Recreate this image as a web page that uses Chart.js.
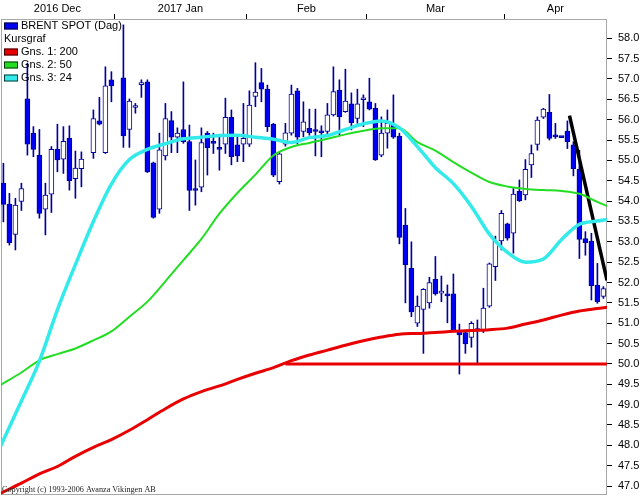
<!DOCTYPE html>
<html>
<head>
<meta charset="utf-8">
<title>BRENT SPOT</title>
<script src="https://cdn.jsdelivr.net/npm/chart.js@4.4.1/dist/chart.umd.min.js"></script>
<style>
  html, body { margin: 0; padding: 0; background: #fff; }
  canvas { display: block; }
</style>
</head>
<body>
<canvas id="brentChart" width="642" height="497"></canvas>
<script>
// weekday slots counted from 2016-12-06 (14 = Dec 26 and 19 = Jan 2 have no quote)
const slots = [0,1,2,3,4,5,6,7,8,9,10,11,12,13,15,16,17,18,
  20,21,22,23,24,25,26,27,28,29,30,31,32,33,34,35,36,37,38,39,40,
  41,42,43,44,45,46,47,48,49,50,51,52,53,54,55,56,57,58,59,60,
  61,62,63,64,65,66,67,68,69,70,71,72,73,74,75,76,77,78,79,80,81,82,83,
  84,85,86,87,88,89,90,91,92,93,94,95,96,97,98,99,100];

const open = [54.44,53.93,53.18,53.99,56.51,55.67,55.13,53.80,54.17,55.27,55.03,55.55,54.55,54.80,55.19,55.97,55.19,56.98,
  57.03,55.76,56.30,56.86,56.93,54.94,53.80,55.11,55.98,55.57,55.76,55.46,54.29,54.34,55.67,55.44,55.28,55.40,56.06,55.38,55.40,
  55.40,56.57,56.91,56.75,55.89,54.48,55.40,55.67,56.71,55.71,55.79,55.74,55.72,55.71,56.12,56.73,56.20,56.39,56.03,56.49,
  56.44,56.28,55.13,55.67,55.89,55.60,53.41,52.35,51.00,51.34,51.50,52.08,51.74,51.69,51.72,50.81,50.77,50.65,50.82,50.83,51.42,52.39,53.02,
  53.44,53.21,54.24,54.15,54.89,55.39,56.06,56.18,55.60,55.58,55.72,55.38,54.79,53.08,53.02,51.94,51.66];
const high = [54.93,54.19,54.07,54.44,57.39,55.83,55.76,54.44,55.34,55.89,55.83,55.85,55.23,55.21,56.24,56.55,57.30,57.18,
  58.33,56.51,56.40,56.98,56.98,54.96,55.67,56.40,56.20,55.80,56.93,55.87,55.01,55.80,55.71,55.67,55.58,56.53,56.24,55.62,56.40,
  56.71,57.40,57.26,56.85,55.91,55.21,55.91,56.85,56.77,56.44,56.26,56.26,55.85,56.40,57.30,56.98,57.24,56.66,56.75,56.61,
  57.02,56.40,56.07,56.24,56.61,55.67,53.82,53.00,51.67,51.85,52.13,52.64,52.16,51.94,52.21,50.98,50.80,51.04,51.08,51.86,52.48,53.14,53.77,
  53.46,54.31,54.52,55.02,55.38,56.07,56.28,56.62,55.91,55.58,55.97,55.46,55.25,53.25,53.21,52.47,51.90];
const low = [53.49,52.92,52.80,53.77,55.13,55.09,53.58,53.17,53.72,54.72,54.68,54.27,54.07,54.35,55.05,55.87,55.17,56.44,
  55.32,55.32,56.16,56.55,54.70,53.58,53.70,55.01,55.19,55.19,55.42,53.77,53.90,54.23,54.64,55.17,54.76,55.17,54.89,54.97,54.97,
  55.34,56.32,56.44,55.71,54.60,54.42,55.35,55.62,55.40,55.58,55.62,55.11,55.09,55.62,56.09,55.62,56.18,55.75,55.91,55.83,
  56.24,55.00,55.09,55.30,55.54,52.95,51.50,51.16,50.92,50.26,51.37,51.69,51.53,51.01,50.80,49.75,50.26,50.41,50.03,50.77,51.39,52.05,52.80,
  53.04,52.72,53.99,54.03,54.58,55.25,56.03,55.50,55.54,55.56,55.29,54.62,52.59,52.67,51.57,51.49,51.61];
const close = [53.92,52.98,53.90,54.31,55.40,55.27,53.70,54.15,55.27,55.01,55.47,54.50,54.81,55.03,56.03,55.89,56.83,56.83,
  55.60,56.46,56.33,56.88,54.72,53.60,55.26,56.03,55.57,55.67,55.46,54.26,54.26,55.44,55.31,55.42,55.27,56.06,55.09,55.11,55.54,
  56.36,56.68,56.75,55.83,54.64,55.16,55.68,56.63,55.57,55.95,55.68,55.71,55.68,56.12,56.69,56.07,56.46,55.93,56.39,56.51,
  56.26,55.01,55.67,55.91,55.57,53.11,52.43,51.28,51.42,51.83,52.00,51.72,51.77,51.67,50.81,50.71,50.49,51.00,50.85,51.37,52.46,53.02,53.70,
  53.09,54.17,54.01,54.78,55.17,55.99,56.26,55.54,55.58,55.56,55.46,54.80,53.06,52.98,51.92,51.53,51.85];

// moving averages read at these slots
const maSlots = [-0.5,3,6,9,12,15,18,21,24,27,30,33,36,39,42,45,48,51,54,57,60,63,66,69,72,75,78,81,84,87,90,93,96,99,100.6];
const ma200 = [46.82,47.07,47.30,47.48,47.73,47.95,48.14,48.37,48.63,48.90,49.14,49.32,49.46,49.62,49.77,49.91,50.08,50.22,
  50.34,50.46,50.57,50.66,50.73,50.75,50.77,50.80,50.82,50.84,50.88,50.98,51.08,51.20,51.30,51.36,51.39];
const ma50 = [49.48,49.79,50.09,50.24,50.38,50.58,50.80,51.16,51.53,52.03,52.55,53.07,53.69,54.20,54.65,55.12,55.33,55.43,
  55.53,55.64,55.73,55.79,55.79,55.45,55.24,54.96,54.70,54.47,54.36,54.30,54.27,54.25,54.18,53.98,53.88];
const ma24 = [47.97,49.09,50.07,51.33,52.44,53.50,54.42,55.02,55.27,55.41,55.53,55.57,55.61,55.62,55.57,55.52,55.44,55.56,
  55.61,55.76,55.90,55.97,55.80,55.34,54.82,54.43,53.87,53.19,52.74,52.50,52.58,53.05,53.43,53.51,53.55];

// drawn lines: support level and falling trend
const supportLevel = 50.0;
const supportSlots = [47, 100.6];
const trendSlots = [94.35, 100.6];
const trendPrices = [56.10, 52.05];

// month axis
const monthLabels = ['2016 Dec', '2017 Jan', 'Feb', 'Mar', 'Apr'];
const monthFirstSlot = [0, 19, 41, 61, 84];
const monthLastSlot = [18, 40, 60, 83, 100];

const X_MIN = -0.4, X_MAX = 100.6;
const Y_MIN = 46.78, Y_MAX = 58.474;

const WICK = '#00009c';
const FILL = '#0000f0';

const boundaryTicks = monthFirstSlot.slice(1).map(s => s - 0.5);
const labelTicks = monthFirstSlot.map((s, i) => (s + monthLastSlot[i]) / 2);

const bodies = slots.map((s, i) => ({ x: s, y: [open[i], close[i]] }));
const wicks = slots.map((s, i) => ({ x: s, y: [low[i], high[i]] }));
const bodyColors = slots.map((s, i) => close[i] < open[i] ? FILL : '#ffffff');

const pts = (xs, ys) => xs.map((x, i) => ({ x: x, y: ys[i] }));

const legendRows = [
  { text: 'BRENT SPOT (Dag)', color: FILL },
  { text: 'Kursgraf' },
  { text: 'Gns. 1: 200', color: '#e80000' },
  { text: 'Gns. 2: 50', color: '#22dd22' },
  { text: 'Gns. 3: 24', color: '#33eaea' }
];

const framePlugin = {
  id: 'frame',
  beforeDatasetsDraw(chart) {
    const a = chart.chartArea, ctx = chart.ctx;
    ctx.save();
    ctx.strokeStyle = '#a8a8a8';
    ctx.lineWidth = 1;
    ctx.strokeRect(a.left + 0.5, a.top + 0.5, a.right - a.left - 1, a.bottom - a.top - 1);
    ctx.restore();
  },
  afterDraw(chart) {
    const a = chart.chartArea, ctx = chart.ctx;
    ctx.save();
    ctx.font = '11px "Liberation Sans", Arial, sans-serif';
    ctx.textBaseline = 'middle';
    legendRows.forEach((row, i) => {
      const y = a.top + 7 + i * 13;
      let tx = a.left + 3;
      if (row.color) {
        ctx.fillStyle = row.color;
        ctx.fillRect(a.left + 3, y - 3.5, 14, 7);
        ctx.strokeStyle = 'rgba(0,0,0,0.75)';
        ctx.lineWidth = 1;
        ctx.strokeRect(a.left + 3.5, y - 3, 13, 6);
        tx = a.left + 20;
      }
      ctx.fillStyle = '#000';
      ctx.fillText(row.text, tx, y);
    });
    ctx.font = '8.2px "Liberation Serif", "Times New Roman", serif';
    ctx.fillStyle = '#222';
    ctx.fillText('Copyright (c) 1993-2006 Avanza Vikingen AB', a.left + 1, a.bottom - 5);
    ctx.restore();
  }
};

Chart.defaults.font.family = '"Liberation Sans", Arial, sans-serif';
Chart.defaults.font.size = 11;
Chart.defaults.color = '#000';

new Chart(document.getElementById('brentChart').getContext('2d'), {
  data: {
    datasets: [
      {
        type: 'line', label: 'Gns. 3: 24', data: pts(maSlots, ma24),
        borderColor: '#33eaea', borderWidth: 3.5, pointRadius: 0,
        cubicInterpolationMode: 'monotone', order: 0
      },
      {
        type: 'line', label: 'Gns. 2: 50', data: pts(maSlots, ma50),
        borderColor: '#22dd22', borderWidth: 2, pointRadius: 0,
        cubicInterpolationMode: 'monotone', order: 0
      },
      {
        type: 'line', label: 'Gns. 1: 200', data: pts(maSlots, ma200),
        borderColor: '#e80000', borderWidth: 3, pointRadius: 0,
        cubicInterpolationMode: 'monotone', order: 0
      },
      {
        type: 'line', label: 'support', data: pts(supportSlots, [supportLevel, supportLevel]),
        borderColor: '#e80000', borderWidth: 3, pointRadius: 0, order: 0
      },
      {
        type: 'line', label: 'trend', data: pts(trendSlots, trendPrices),
        borderColor: '#000', borderWidth: 3.5, pointRadius: 0, order: 0
      },
      {
        type: 'bar', label: 'BRENT SPOT (Dag)', data: bodies,
        backgroundColor: bodyColors, borderColor: WICK, borderWidth: 1,
        borderSkipped: false, barThickness: 5, minBarLength: 2,
        grouped: false, order: 1
      },
      {
        type: 'bar', label: 'wick', data: wicks,
        backgroundColor: WICK, borderWidth: 0, barThickness: 1, minBarLength: 1,
        grouped: false, order: 2
      }
    ]
  },
  options: {
    responsive: false,
    animation: false,
    devicePixelRatio: 1,
    layout: { padding: { left: 1, bottom: 2, top: 0, right: 0 } },
    plugins: {
      legend: { display: false },
      tooltip: { enabled: false }
    },
    scales: {
      x: {
        type: 'linear',
        position: 'top',
        offset: false,
        min: X_MIN,
        max: X_MAX,
        afterBuildTicks: (scale) => {
          scale.ticks = boundaryTicks.concat(labelTicks).map(v => ({ value: v }));
        },
        afterFit: (scale) => {
          scale.height = 19;
          scale.paddingLeft = 0;
          scale.paddingRight = 0;
        },
        border: { display: false },
        grid: {
          offset: false,
          drawOnChartArea: false,
          tickLength: 5,
          color: (ctx) => (ctx.tick && boundaryTicks.includes(ctx.tick.value)) ? '#000' : 'rgba(0,0,0,0)'
        },
        ticks: {
          autoSkip: false,
          maxRotation: 0,
          minRotation: 0,
          padding: -2,
          callback: (value) => {
            const i = labelTicks.indexOf(value);
            return i >= 0 ? monthLabels[i] : '';
          }
        }
      },
      y: {
        type: 'linear',
        position: 'right',
        min: Y_MIN,
        max: Y_MAX,
        afterFit: (scale) => {
          scale.width = 35;
          scale.paddingTop = 0;
          scale.paddingBottom = 0;
        },
        border: { display: false },
        grid: {
          drawOnChartArea: false,
          tickLength: 5,
          color: '#000'
        },
        ticks: {
          stepSize: 0.5,
          includeBounds: false,
          autoSkip: false,
          padding: 6,
          callback: (value) => value.toFixed(1)
        }
      }
    }
  },
  plugins: [framePlugin]
});
</script>
</body>
</html>
